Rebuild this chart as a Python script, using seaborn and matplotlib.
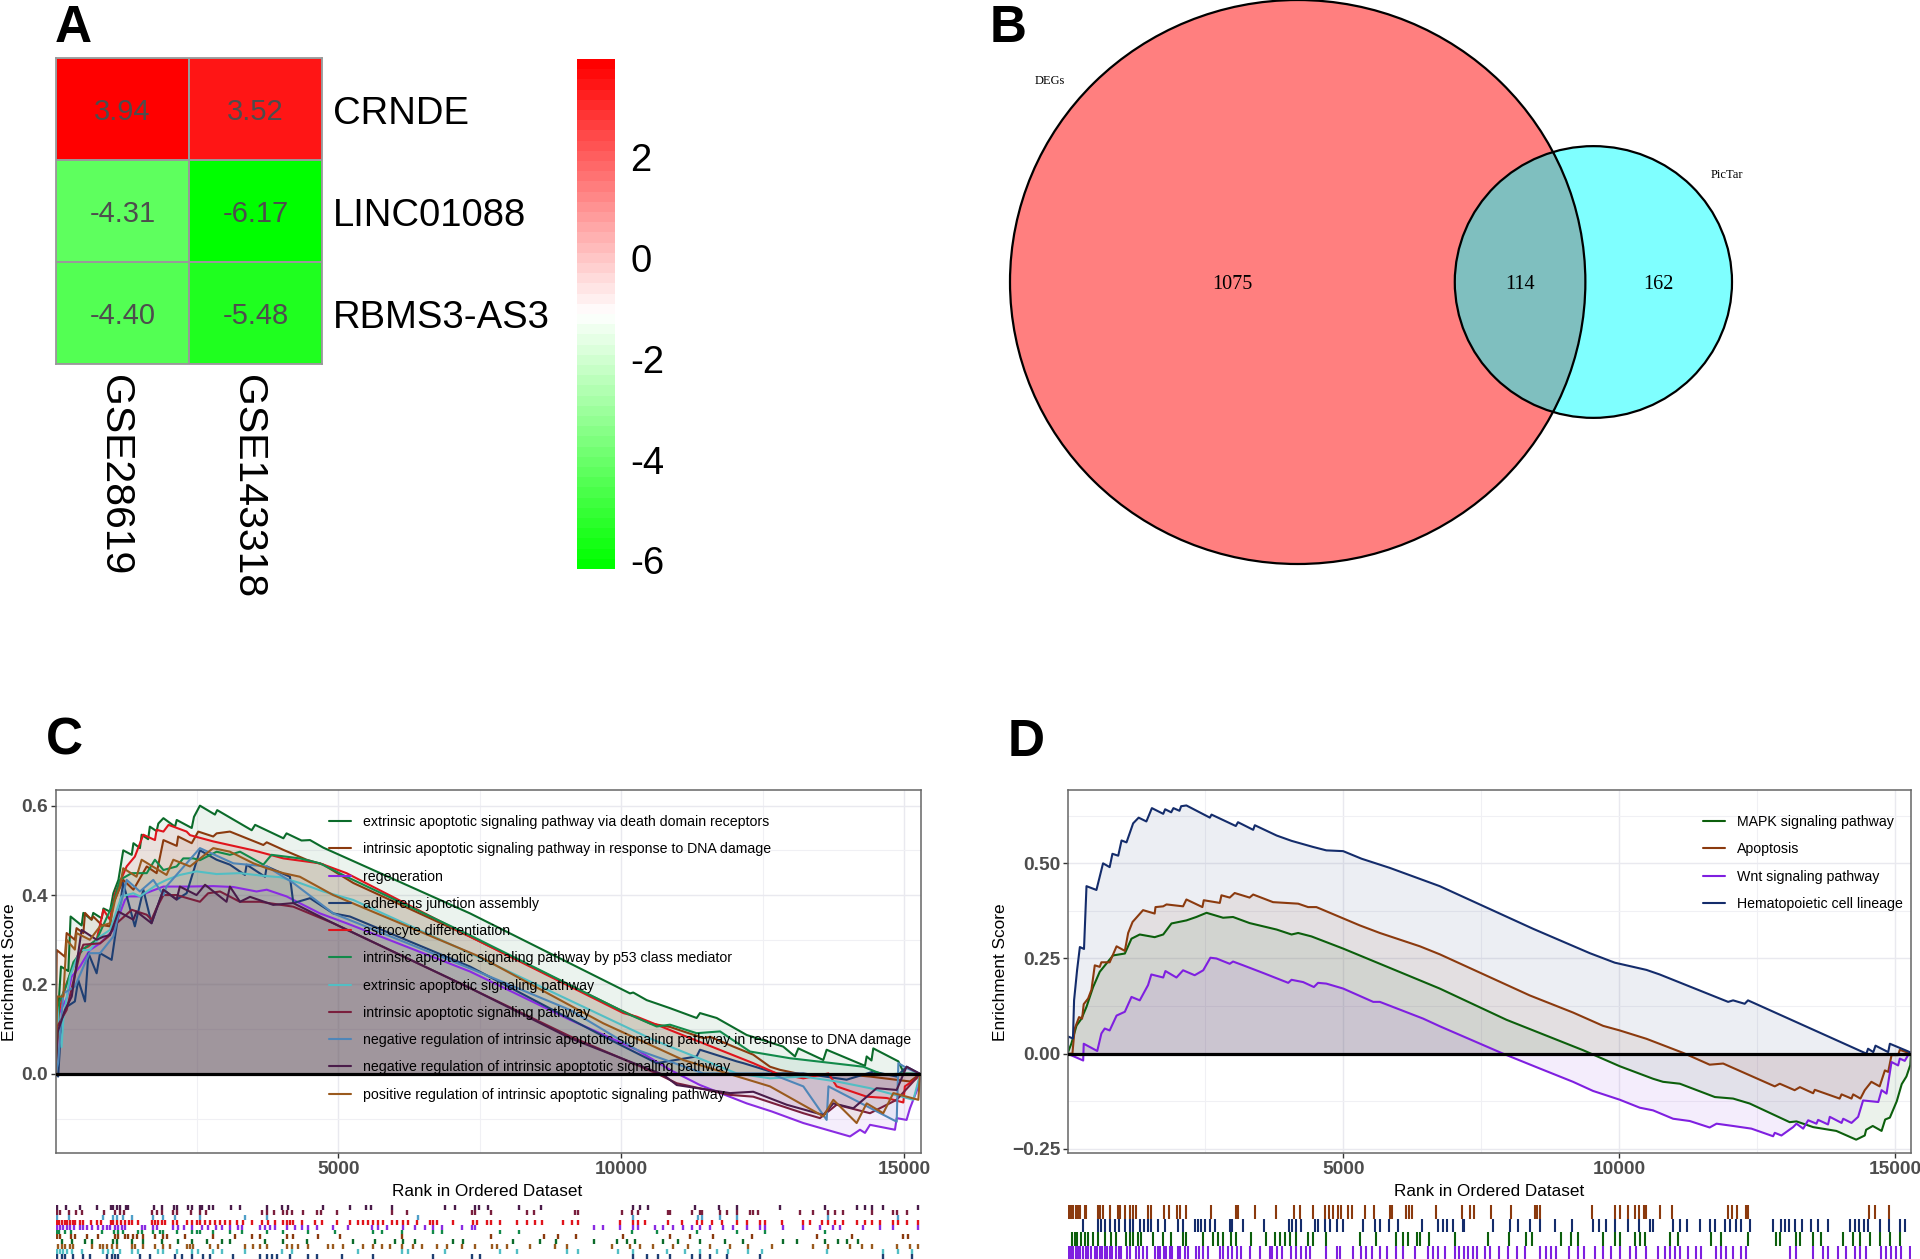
"""
Four panel figure: heatmap, venn diagram and two GSEA running score plots
"""
import numpy as np
import pandas as pd
import matplotlib
matplotlib.use("Agg")
import matplotlib.pyplot as plt
from matplotlib.colors import LinearSegmentedColormap
from matplotlib.patches import Circle
from matplotlib.transforms import ScaledTranslation
import seaborn as sns

W, H = 1920, 1259

# Panel A
genes = ["CRNDE", "LINC01088", "RBMS3-AS3"]
datasets = ["GSE28619", "GSE143318"]
logfc = [[3.94, 3.52], [-4.31, -6.17], [-4.40, -5.48]]
cbar_ticks = [-6, -4, -2, 0, 2]

# Panel B
venn_only_degs = 1075
venn_both = 114
venn_only_pictar = 162

# Panel C curves as (rank, score)
c_ext_death = [(0, 0), (50, .12), (70, .18), (100, .24), (230, .23), (270, .352), (465, .332), (495, .36), (640, .345), (670, .36), (820, .348), (850, .37), (965, .363), (1025, .404), (1115, .434), (1200, .5), (1350, .49), (1380, .516), (1495, .505), (1525, .535), (1640, .525), (1670, .553), (1790, .543), (1820, .56), (1910, .572), (2115, .553), (2145, .568), (2410, .55), (2450, .575), (2555, .6), (2820, .58), (2860, .59), (3470, .545), (3530, .557), (4030, .527), (4085, .538), (4350, .522), (4500, .523), (4735, .506), (7327, .359), (10154, .18), (10210, .182), (10448, .165), (10860, .147), (11331, .125), (11390, .136), (11685, .125), (12215, .087), (12860, .061), (13069, .039), (13128, .057), (13569, .031), (13628, .054), (14305, .018), (14335, .039), (14420, .03), (14452, .057), (14895, .028), (15000, 0), (15277, 0)]
c_intr_dna = [(0, 0), (25, .277), (170, .262), (200, .315), (345, .3), (375, .326), (495, .315), (525, .36), (640, .345), (670, .352), (820, .333), (965, .33), (1025, .382), (1200, .434), (1380, .412), (1615, .464), (1790, .449), (1910, .523), (2145, .51), (2170, .531), (2410, .516), (2525, .542), (2790, .531), (2850, .538), (3085, .542), (3675, .512), (3735, .518), (4030, .501), (4440, .479), (4735, .468), (5265, .427), (7327, .307), (9977, .143), (10507, .113), (10860, .105), (11450, .08), (11570, .083), (11980, .061), (12330, .043), (12627, .016), (12804, .009), (13216, -.002), (14040, -.002), (14394, -.006), (15100, -.017), (15277, 0)]
c_regeneration = [(0, 0), (35, .069), (70, .136), (200, .169), (290, .218), (435, .24), (610, .277), (790, .292), (1025, .322), (1140, .359), (1230, .389), (1290, .397), (1495, .397), (1615, .405), (1910, .419), (2320, .419), (2790, .42), (3145, .418), (3555, .408), (3735, .412), (4085, .397), (4675, .359), (5145, .337), (7327, .229), (9094, .121), (10271, .054), (10860, .009), (11390, -.025), (12215, -.066), (12656, -.084), (13216, -.11), (14040, -.14), (14217, -.125), (14305, -.132), (14394, -.114), (14835, -.125), (14865, -.099), (15040, -.103), (15100, -.077), (15250, -.028), (15277, -.006)]
c_adherens = [(0, 0), (50, -.006), (110, .12), (200, .15), (345, .162), (405, .21), (525, .162), (585, .27), (730, .225), (790, .27), (995, .255), (1055, .307), (1200, .427), (1405, .33), (1555, .412), (1700, .337), (1910, .412), (2143, .39), (2320, .404), (2555, .5), (2850, .479), (3085, .468), (3350, .445), (3380, .468), (3705, .441), (3735, .464), (4145, .441), (4205, .382), (4500, .393), (4910, .359), (5205, .352), (7327, .24), (9683, .084), (10625, .024), (11331, .039), (11390, .054), (12038, .028), (12156, .024), (12745, .001), (13216, .001), (13981, -.013), (14452, .005), (14865, -.006), (15040, .016), (15277, 0)]
c_astrocyte = [(0, 0), (70, .143), (200, .203), (320, .24), (435, .277), (585, .285), (730, .3), (850, .367), (965, .345), (1055, .404), (1260, .464), (1405, .486), (1555, .535), (1760, .523), (1790, .546), (1910, .542), (2000, .557), (2320, .542), (2380, .534), (2790, .52), (3500, .5), (4030, .482), (4675, .471), (5145, .449), (7327, .307), (10036, .136), (10271, .128), (10860, .098), (12330, .024), (12745, .001), (13216, -.01), (13660, .001), (13805, -.028), (14335, -.051), (14690, -.054), (14983, -.064), (15010, -.028), (15218, -.01), (15277, 0)]
c_p53 = [(0, 0), (70, .16), (200, .2), (320, .25), (500, .28), (730, .3), (1025, .382), (1140, .434), (1350, .449), (1615, .449), (1760, .479), (1910, .456), (2143, .464), (2260, .482), (2440, .482), (2555, .478), (2850, .497), (3085, .49), (3263, .497), (3675, .468), (3820, .49), (4320, .482), (4675, .471), (5145, .441), (7327, .31), (10154, .132), (10625, .106), (10860, .11), (11331, .091), (11745, .095), (12273, .05), (12980, .035), (14276, .016), (14629, -.002), (14983, .001), (15277, 0)]
c_ext = [(0, 0), (35, .15), (110, .06), (140, .12), (260, .218), (435, .277), (610, .277), (790, .307), (965, .322), (1170, .397), (1378, .404), (1495, .397), (1790, .423), (1965, .434), (2200, .445), (2495, .453), (2850, .447), (3260, .449), (3675, .443), (3970, .44), (4320, .427), (4735, .408), (5265, .389), (7327, .27), (10566, .076), (11450, .031), (12038, .001), (12627, -.01), (13216, -.006), (13805, -.017), (14394, -.032), (15160, -.058), (15277, -.002)]
c_intr = [(0, 0), (35, .106), (200, .143), (435, .27), (495, .289), (790, .292), (935, .307), (1085, .337), (1350, .367), (1615, .356), (1700, .345), (1790, .371), (1910, .4), (2143, .4), (2555, .385), (2700, .404), (2910, .408), (3260, .385), (3615, .385), (4205, .374), (4910, .337), (7327, .192), (9094, .084), (10625, .001), (10980, -.021), (11920, -.047), (12330, -.051), (13216, -.088), (13510, -.099), (13805, -.069), (14394, -.088), (14865, -.058), (15160, -.017), (15277, 0)]
c_neg_dna = [(0, 0), (50, .024), (140, .18), (345, .195), (600, .27), (790, .27), (1024, .307), (1260, .434), (1495, .408), (1731, .434), (1910, .4), (1967, .42), (2555, .505), (3145, .471), (3735, .464), (4205, .427), (4910, .359), (7327, .236), (9094, .143), (10271, .054), (11450, .001), (12627, .001), (13216, -.028), (13628, -.103), (13660, -.028), (14865, -.107), (14895, .024), (15040, .013), (15277, 0)]
c_neg = [(0, 0), (35, .091), (170, .143), (290, .173), (465, .322), (730, .3), (850, .307), (965, .31), (1115, .363), (1378, .345), (1435, .363), (1700, .337), (1910, .412), (2143, .39), (2200, .419), (2495, .4), (2645, .423), (3025, .385), (3085, .419), (3263, .385), (3440, .396), (3850, .378), (4205, .382), (4910, .337), (7327, .192), (9094, .08), (10742, -.002), (10980, -.025), (11920, -.043), (12330, -.04), (12921, -.069), (13569, -.092), (13746, -.066), (14099, -.077), (14511, -.032), (14865, -.036), (15040, .016), (15277, 0)]
c_pos = [(0, 0), (35, .173), (140, .173), (200, .3), (345, .278), (375, .315), (610, .3), (790, .33), (965, .337), (1055, .389), (1140, .419), (1200, .46), (1435, .441), (1525, .479), (1965, .445), (2085, .479), (2380, .464), (2790, .505), (3085, .497), (3500, .471), (3735, .46), (4030, .449), (4320, .441), (4910, .4), (7500, .262), (9683, .113), (11096, .031), (12627, -.028), (13569, -.095), (13746, -.058), (14158, -.11), (14335, -.066), (14628, -.088), (14806, -.043), (15248, -.058), (15277, 0)]

# Panel D curves as (rank, score)
d_mapk = [(0, 0), (70, .026), (165, .074), (255, .092), (345, .123), (465, .175), (585, .215), (825, .258), (1040, .263), (1160, .302), (1310, .313), (1580, .306), (1735, .313), (1885, .342), (2155, .35), (2335, .359), (2520, .37), (2820, .357), (3000, .359), (3300, .343), (3790, .326), (4060, .313), (4180, .317), (4420, .308), (4995, .276), (6745, .171), (7953, .089), (9343, .009), (10005, -.033), (10610, -.066), (10790, -.074), (11095, -.079), (11730, -.114), (12060, -.118), (12360, -.131), (13085, -.18), (13208, -.178), (13510, -.193), (13930, -.203), (14290, -.226), (14445, -.215), (14470, -.2), (14590, -.19), (14750, -.203), (14815, -.173), (14900, -.168), (15025, -.125), (15115, -.08), (15200, -.06), (15270, -.03), (15283, 0)]
d_apoptosis = [(0, 0), (90, 0), (130, .065), (210, .096), (265, .092), (295, .13), (375, .145), (435, .168), (495, .232), (585, .228), (615, .24), (765, .24), (890, .282), (1040, .27), (1100, .317), (1180, .346), (1370, .377), (1580, .368), (1595, .385), (1735, .387), (1795, .392), (2095, .387), (2155, .405), (2445, .385), (2470, .403), (2760, .396), (2790, .416), (2940, .41), (3030, .422), (3300, .41), (3365, .418), (3725, .398), (4180, .394), (4360, .385), (4510, .385), (5295, .337), (5660, .317), (6385, .282), (6745, .261), (8375, .153), (9160, .108), (9705, .073), (10005, .061), (10490, .039), (11155, .002), (11635, -.029), (11880, -.026), (12815, -.086), (12905, -.079), (13175, -.096), (13270, -.088), (13510, -.104), (13540, -.095), (13990, -.118), (14025, -.107), (14205, -.118), (14235, -.107), (14367, -.118), (14445, -.096), (14565, -.074), (14715, -.086), (14810, -.044), (14870, -.048), (14930, -.004), (15050, -.004), (15080, .01), (15283, 0)]
d_wnt = [(0, 0), (285, -.018), (295, .026), (540, .007), (615, .053), (675, .066), (765, .061), (890, .1), (1040, .11), (1160, .149), (1310, .14), (1460, .18), (1520, .208), (1735, .2), (1775, .217), (1975, .2), (2095, .219), (2305, .206), (2460, .219), (2590, .252), (2700, .25), (2940, .236), (3000, .242), (3185, .232), (3545, .212), (4000, .186), (4060, .194), (4270, .188), (4465, .175), (4540, .186), (4690, .184), (4995, .171), (5540, .136), (5660, .136), (6445, .092), (6745, .072), (7892, 0), (8557, -.039), (9160, -.074), (9523, -.098), (10005, -.121), (10370, -.142), (10610, -.149), (10973, -.171), (11275, -.177), (11635, -.194), (11760, -.184), (12060, -.19), (12392, -.197), (12785, -.217), (12815, -.208), (12935, -.215), (13147, -.193), (13208, -.184), (13330, -.197), (13420, -.175), (13570, -.184), (13600, -.174), (13780, -.186), (13812, -.166), (14025, -.182), (14055, -.171), (14205, -.182), (14325, -.166), (14415, -.123), (14690, -.127), (14750, -.096), (14840, -.105), (14930, -.022), (15050, -.031), (15080, -.013), (15170, -.019), (15262, .004), (15283, 0)]
d_hema = [(0, 0), (10, .045), (100, .04), (120, .14), (175, .22), (225, .28), (300, .275), (345, .44), (525, .43), (645, .5), (765, .49), (815, .525), (920, .52), (980, .56), (1070, .555), (1190, .605), (1290, .62), (1430, .61), (1530, .645), (1735, .63), (1770, .642), (1880, .634), (1920, .645), (2030, .638), (2060, .65), (2155, .652), (2580, .62), (2610, .628), (3050, .598), (3090, .608), (3365, .588), (3395, .6), (3790, .573), (4060, .559), (4450, .543), (4690, .534), (4995, .532), (5330, .512), (5840, .488), (6745, .44), (8436, .328), (9463, .264), (9916, .239), (10490, .22), (10730, .208), (11970, .136), (12060, .14), (12270, .131), (12330, .14), (14475, 0), (14505, .013), (14600, .004), (14640, .021), (14870, .004), (14900, .026), (15262, .004), (15283, 0)]

# gene set hit ranks, panel C
r_neg = [24, 190, 436, 730, 983, 1024, 1083, 1142, 1248, 1290, 1743, 1878, 2096, 2143, 2350, 2421, 2556, 2585, 2721, 2791, 3097, 3263, 3733, 3998, 4116, 4735, 5206, 5489, 5571, 5948, 6884, 7061, 7414, 7486, 7651, 8193, 8581, 10213, 10330, 10466, 11302, 11732, 12038, 12804, 13599, 14170, 14306, 14423, 14629, 15248]
r_intr = [35, 82, 247, 365, 465, 860, 1054, 1142, 1213, 1702, 1790, 1878, 2085, 2143, 2391, 2556, 2662, 3645, 3733, 3863, 4028, 4087, 4175, 4370, 4617, 4688, 4970, 5942, 6219, 7355, 7415, 7692, 8328, 8458, 9182, 9241, 10006, 10183, 10289, 10831, 10860, 11243, 11390, 11420, 11744, 11862, 12038, 12274, 12333, 12421, 13157, 13393, 13658, 13775, 13911, 14423, 14794, 14865, 15042]
r_neg_dna = [24, 247, 848, 1024, 1083, 1190, 1348, 1731, 1908, 2114, 2556, 3351, 3733, 6413, 10213, 11361, 11420, 11744, 12038, 13658, 14895]
r_astrocyte = [24, 71, 118, 165, 212, 259, 306, 353, 436, 495, 624, 730, 801, 978, 1024, 1083, 1154, 1225, 1295, 1348, 1466, 1702, 1761, 1820, 1878, 1937, 2085, 2143, 2320, 2409, 2497, 2556, 2644, 2732, 2821, 2909, 2997, 3086, 3204, 3322, 3469, 3645, 3763, 3881, 4028, 4087, 4146, 4205, 4352, 4588, 4705, 4970, 5206, 5353, 5442, 5530, 5618, 5707, 5795, 5942, 6031, 6148, 6237, 6384, 6620, 6678, 6737, 7032, 7385, 7457, 7621, 7692, 7857, 8151, 8340, 8475, 8593, 8976, 9123, 9241, 9977, 10213, 10301, 10419, 10831, 11066, 11331, 11420, 11596, 11773, 12038, 12215, 12450, 12539, 12833, 13216, 13334, 13540, 13658, 13775, 13922, 14158, 14306, 14423, 14572, 14807, 14895, 15042, 15248]
r_regeneration = [35, 82, 130, 200, 259, 330, 436, 495, 554, 642, 760, 848, 907, 966, 1054, 1113, 1172, 1230, 1525, 1584, 1731, 1790, 2085, 2173, 2273, 2409, 2585, 2703, 2838, 2938, 3086, 3233, 3292, 3616, 3704, 3792, 3881, 4087, 4234, 4352, 4470, 4617, 4911, 5177, 5589, 5707, 5854, 6148, 6354, 6531, 6678, 6825, 7179, 7356, 7415, 9518, 9683, 9977, 10213, 10301, 10595, 10743, 10919, 11096, 11243, 11390, 11567, 11803, 11979, 12215, 12450, 12539, 12863, 13216, 13510, 13746, 13864, 14276, 14572, 14807, 15248]
r_p53 = [24, 71, 171, 271, 819, 1036, 1113, 1190, 1466, 1525, 1731, 1849, 1908, 2143, 2409, 2497, 2556, 2791, 3086, 3292, 3733, 4028, 4470, 4941, 5618, 5765, 6119, 6678, 6825, 7857, 8199, 10183, 10625, 11331, 12038, 12539, 13599]
r_intr_dna = [24, 82, 271, 347, 565, 760, 1054, 1113, 1230, 1290, 1378, 1449, 1555, 1761, 1908, 1967, 2291, 2791, 3174, 3469, 3616, 4087, 4205, 4647, 5029, 6119, 7692, 8634, 8888, 9200, 10036, 10860, 11214, 11626, 12303, 13452, 14070, 14983, 15071]
r_ext_death = [112, 289, 524, 642, 1024, 1083, 1348, 1555, 1878, 2173, 2409, 2674, 2938, 3086, 3704, 4028, 4440, 5265, 5648, 6001, 6148, 6354, 7032, 7208, 8093, 8564, 8846, 9518, 9918, 10095, 10242, 10743, 11007, 11390, 11832, 12156, 12863, 13098, 13599, 13834, 13981, 14188]
r_pos = [53, 112, 171, 259, 318, 642, 789, 848, 907, 995, 1083, 1348, 1407, 1555, 1761, 1908, 2026, 2320, 2379, 2438, 2732, 2880, 3351, 3498, 3616, 3733, 4087, 4175, 4293, 4470, 4823, 4911, 5088, 5442, 5618, 5765, 5912, 6119, 6325, 6472, 6737, 6913, 7179, 7414, 7710, 7798, 7975, 8387, 8829, 9035, 9830, 10154, 10330, 10566, 10919, 11184, 11567, 11920, 12244, 12656, 13393, 13658, 14040, 14247, 14423, 14865, 15100, 15248]
r_ext = [35, 82, 130, 200, 289, 465, 848, 936, 1024, 1142, 1348, 1466, 1820, 1908, 2143, 2409, 2526, 2791, 2938, 3351, 3998, 4175, 5353, 6119, 6237, 6884, 7857, 8151, 9035, 9241, 9948, 10213, 10801, 11125, 11390, 11685, 11891, 12244, 12480, 13628, 14629, 14895, 15130]
r_adherens = [35, 112, 171, 318, 495, 612, 907, 995, 1054, 1113, 1496, 1672, 2114, 2232, 2409, 2615, 2732, 3145, 3616, 3733, 3822, 3910, 4146, 4470, 4617, 5059, 5618, 6678, 7355, 7504, 10213, 10448, 10654, 10860, 11243, 11390, 11567, 11862, 12450, 14629, 15130]

# gene set hit ranks, panel D
r_apoptosis = [24, 72, 103, 151, 193, 223, 314, 344, 556, 586, 646, 779, 918, 960, 1039, 1142, 1190, 1250, 1462, 1522, 1746, 1836, 1987, 2048, 2156, 2609, 3062, 3092, 3394, 3775, 4101, 4210, 4451, 4663, 4741, 4814, 4904, 4965, 5086, 5164, 5388, 5551, 5841, 5871, 6131, 6191, 6251, 6674, 7157, 7289, 7367, 7681, 8032, 8466, 8515, 8557, 9511, 9928, 10007, 10158, 10278, 10351, 10441, 10478, 10731, 10961, 11970, 12048, 12139, 12302, 12332, 14518, 14639, 14893]
r_hema = [284, 556, 616, 677, 779, 858, 936, 1039, 1130, 1190, 1311, 1383, 1462, 1522, 1643, 1764, 2005, 2096, 2308, 2368, 2428, 2489, 2579, 2670, 2942, 2990, 3183, 3563, 4016, 4076, 4149, 4240, 4481, 4542, 4663, 4765, 4886, 4995, 5357, 5569, 5660, 5829, 5992, 6415, 6717, 6808, 6880, 6977, 7170, 7180, 7711, 8013, 8164, 8376, 8557, 8829, 9149, 9523, 9632, 9765, 9916, 10158, 10351, 10550, 10611, 10973, 11094, 11227, 11468, 11637, 11728, 11909, 12000, 12121, 12211, 12362, 12785, 12936, 12996, 13075, 13178, 13316, 13480, 13600, 13781, 14186, 14265, 14343, 14428, 14506, 14718, 14887, 15080, 15170]
r_mapk = [91, 133, 175, 254, 314, 375, 465, 556, 677, 797, 888, 1069, 1130, 1190, 1281, 1341, 1552, 1733, 1884, 2096, 2156, 2458, 2639, 2730, 2821, 2972, 3062, 3334, 3606, 3757, 3848, 3939, 4028, 4149, 4361, 4451, 4681, 5297, 5599, 5961, 6082, 6173, 6324, 6385, 6553, 7017, 7621, 8001, 8303, 8424, 8950, 9131, 9252, 9705, 9928, 10007, 10278, 10369, 10460, 10925, 11064, 11668, 11849, 12332, 12845, 12906, 13208, 13268, 13510, 13661, 14053, 14235, 14367, 14536, 14730, 14899, 15080]
r_wnt = [24, 72, 103, 151, 193, 235, 284, 332, 375, 435, 495, 538, 586, 634, 677, 719, 767, 815, 876, 936, 978, 1081, 1130, 1238, 1299, 1371, 1444, 1594, 1643, 1685, 1746, 1794, 1854, 1903, 2005, 2048, 2126, 2186, 2326, 2386, 2458, 2549, 2761, 2821, 2911, 2990, 3074, 3153, 3304, 3497, 3666, 3715, 3800, 3896, 4058, 4137, 4240, 4330, 4403, 4681, 4886, 4947, 5176, 5327, 5406, 5509, 5660, 5781, 5949, 6082, 6293, 6535, 6626, 6717, 6836, 7017, 7095, 7180, 7258, 7349, 7421, 7560, 7651, 7820, 7983, 8146, 8285, 8557, 8666, 8768, 8859, 9088, 9252, 9354, 9554, 9705, 9856, 10007, 10188, 10309, 10490, 10701, 10822, 10913, 11003, 11094, 11245, 11396, 11486, 11758, 11849, 11939, 12060, 12211, 12290, 13087, 13208, 13510, 13691, 13781, 13963, 14101, 14265, 14367, 14476, 14748, 14839, 14929, 15020, 15110, 15261]

c_series = [
    ("extrinsic apoptotic signaling pathway via death domain receptors", c_ext_death, "#0B6B2A"),
    ("intrinsic apoptotic signaling pathway in response to DNA damage", c_intr_dna, "#8B3A0E"),
    ("regeneration", c_regeneration, "#8A2BE2"),
    ("adherens junction assembly", c_adherens, "#1F3F73"),
    ("astrocyte differentiation", c_astrocyte, "#E0141C"),
    ("intrinsic apoptotic signaling pathway by p53 class mediator", c_p53, "#128A4A"),
    ("extrinsic apoptotic signaling pathway", c_ext, "#52BEC4"),
    ("intrinsic apoptotic signaling pathway", c_intr, "#7A1F3D"),
    ("negative regulation of intrinsic apoptotic signaling pathway in response to DNA damage", c_neg_dna, "#4F86B8"),
    ("negative regulation of intrinsic apoptotic signaling pathway", c_neg, "#4A1C4A"),
    ("positive regulation of intrinsic apoptotic signaling pathway", c_pos, "#9A5A1E"),
]
d_series = [
    ("MAPK signaling pathway", d_mapk, "#0C5F0C"),
    ("Apoptosis", d_apoptosis, "#8B3A0E"),
    ("Wnt signaling pathway", d_wnt, "#7F1FE0"),
    ("Hematopoietic cell lineage", d_hema, "#142C6B"),
]
c_rugs = [(r_neg, "#4A1C4A"), (r_intr, "#7A1F3D"), (r_neg_dna, "#4F9FC8"), (r_astrocyte, "#E0141C"),
          (r_regeneration, "#8A2BE2"), (r_p53, "#128A4A"), (r_intr_dna, "#8B3A0E"), (r_ext_death, "#0B6B2A"),
          (r_pos, "#9A5A1E"), (r_ext, "#52BEC4"), (r_adherens, "#1F3F73")]
d_rugs = [(r_apoptosis, "#8B3A0E"), (r_hema, "#142C6B"), (r_mapk, "#0C5F0C"), (r_wnt, "#7F1FE0")]

sns.set_theme(style="white")
plt.rcParams["font.family"] = ["Liberation Sans", "DejaVu Sans"]

fig = plt.figure(figsize=(W / 100, H / 100), dpi=100)


def px_axes(left, top, right, bottom):
    # axes placed by pixel edges of the output image
    return fig.add_axes([left / W, 1 - bottom / H, (right - left) / W, (bottom - top) / H])


def px_text(x, y, s, **kw):
    fig.text(x / W, 1 - y / H, s, ha=kw.pop("ha", "center"), va=kw.pop("va", "center"), **kw)


def nudge(txt, dx_px, dy_px):
    # shift a text by output pixels, y down
    txt.set_transform(txt.get_transform() + ScaledTranslation(dx_px / 100, -dy_px / 100, fig.dpi_scale_trans))


# Panel A
df = pd.DataFrame(logfc, index=genes, columns=datasets)
cmap = LinearSegmentedColormap.from_list("gwr", ["#00FF00", "#FFFFFF", "#FF0000"], N=50)
ax_a = px_axes(56, 58, 322, 364)
cax = px_axes(577, 59, 615, 569)
sns.heatmap(df, ax=ax_a, cbar_ax=cax, cmap=cmap, vmin=-6.17, vmax=3.94, annot=True, fmt=".2f",
            annot_kws={"size": 21, "color": "#4D4D4D"}, linewidths=1.3, linecolor="#999999")
ax_a.yaxis.tick_right()
ax_a.tick_params(length=0, axis="y", pad=8, labelsize=27.5, labelright=True, labelleft=False)
ax_a.tick_params(length=0, axis="x", pad=8, labelsize=29.5)
plt.setp(ax_a.get_yticklabels(), rotation=0, color="black")
plt.setp(ax_a.get_xticklabels(), rotation=270, color="black")
for txt in ax_a.texts:
    nudge(txt, 0, 3)
for txt in ax_a.get_yticklabels():
    nudge(txt, 0, 1)
for txt in ax_a.get_xticklabels():
    nudge(txt, -8, 0)
for sp in ax_a.spines.values():
    sp.set_visible(True)
    sp.set_color("#999999")
    sp.set_linewidth(1.3)
ax_a.collections[0].colorbar.outline.set_visible(False)
cax.set_yticks(cbar_ticks)
cax.set_yticklabels([str(t) for t in cbar_ticks], fontsize=27.5, color="black")
cax.tick_params(length=0, pad=11)

# Panel B, area proportional circles
size_a = venn_only_degs + venn_both
size_b = venn_only_pictar + venn_both
r_a = np.sqrt(size_a / np.pi)
r_b = np.sqrt(size_b / np.pi)


def lens_area(d):
    t1 = r_a**2 * np.arccos((d**2 + r_a**2 - r_b**2) / (2 * d * r_a))
    t2 = r_b**2 * np.arccos((d**2 + r_b**2 - r_a**2) / (2 * d * r_b))
    t3 = 0.5 * np.sqrt((-d + r_a + r_b) * (d + r_a - r_b) * (d - r_a + r_b) * (d + r_a + r_b))
    return t1 + t2 - t3


lo, hi = r_a - r_b + 1e-6, r_a + r_b - 1e-6
for _ in range(60):
    mid = (lo + hi) / 2
    if lens_area(mid) > venn_both:
        lo = mid
    else:
        hi = mid
dist = (lo + hi) / 2

ax_b = px_axes(1010, 0, 1732, 564)
ax_b.set_xlim(-r_a, dist + r_b)
ax_b.set_ylim(-r_a, r_a)
ax_b.axis("off")
ax_b.add_patch(Circle((0, 0), r_a, fc="#FF0000", alpha=0.5, ec="none"))
ax_b.add_patch(Circle((dist, 0), r_b, fc="#00FFFF", alpha=0.5, ec="none"))
ax_b.add_patch(Circle((0, 0), r_a, fc="none", ec="black", lw=1.6, clip_on=False))
ax_b.add_patch(Circle((dist, 0), r_b, fc="none", ec="black", lw=1.6, clip_on=False))
serif = ["Liberation Serif", "DejaVu Serif"]
px_text(1232, 285, str(venn_only_degs), family=serif, fontsize=14.5, color="black")
px_text(1520, 285, str(venn_both), family=serif, fontsize=14.5, color="black")
px_text(1658, 285, str(venn_only_pictar), family=serif, fontsize=14.5, color="black")
px_text(1050, 81, "DEGs", family=serif, fontsize=9, color="black")
px_text(1727, 175, "PicTar", family=serif, fontsize=9, color="black")


def gsea_panel(box, xlim, ylim, yticks, yminor, ylabels, series, legend_xy):
    ax = px_axes(*box)
    for name, pts, col in series:
        rank, es = np.array(pts).T
        ax.fill_between(rank, es, 0, color=col, alpha=0.08, lw=0)
        sns.lineplot(x=rank, y=es, ax=ax, color=col, lw=1.5, sort=False, estimator=None, label=name)
    ax.axhline(0, color="black", lw=2.3, zorder=5)
    ax.set_xlim(*xlim)
    ax.set_ylim(*ylim)
    ax.set_xticks([5000, 10000, 15000])
    ax.set_xticks([2500, 7500, 12500], minor=True)
    ax.set_yticks(yticks)
    ax.set_yticklabels(ylabels)
    ax.set_yticks(yminor, minor=True)
    ax.grid(True, which="major", color="#E9E9EF", lw=1.0)
    ax.grid(True, which="minor", color="#F0F0F4", lw=0.8)
    ax.set_axisbelow(True)
    ax.tick_params(which="minor", length=0)
    ax.tick_params(which="major", length=3.5, width=1, color="#333333", labelcolor="#4D4D4D", labelsize=13.8, pad=2, bottom=True, left=True)
    plt.setp(ax.get_xticklabels() + ax.get_yticklabels(), fontweight="bold")
    for sp in ax.spines.values():
        sp.set_visible(True)
        sp.set_color("#666666")
        sp.set_linewidth(1.1)
    ax.set_xlabel("")
    ax.set_ylabel("")
    leg = ax.legend(loc="upper left", bbox_to_anchor=(legend_xy[0] / W, 1 - legend_xy[1] / H),
                    bbox_transform=fig.transFigure, frameon=False, fontsize=10.15, borderpad=0,
                    borderaxespad=0, handlelength=1.55, handletextpad=0.85, labelspacing=0.94)
    leg.set_zorder(6)
    for line in leg.get_lines():
        line.set_linewidth(1.5)
    for txt in leg.get_texts():
        txt.set_color("black")
    return ax


def rug_rows(left, right, top, row_h, xlim, rows, lw):
    for i, (ranks, col) in enumerate(rows):
        ax = px_axes(left, top + i * row_h, right, top + (i + 1) * row_h)
        sns.rugplot(x=ranks, ax=ax, color=col, height=1, linewidth=lw, alpha=1, expand_margins=False)
        ax.set_xlim(*xlim)
        ax.axis("off")


# Panel C
xlim_c = (12, 15295)
gsea_panel((56, 790, 921, 1153), xlim_c, (-0.177, 0.635), [0, 0.2, 0.4, 0.6], [-0.1, 0.1, 0.3, 0.5],
           ["0.0", "0.2", "0.4", "0.6"], c_series, (329, 815))
px_text(10, 972, "Enrichment Score", rotation=90, fontsize=12.4, color="black")
px_text(487, 1191, "Rank in Ordered Dataset", fontsize=12.3, color="black")
rug_rows(56, 921, 1205, 4.91, xlim_c, c_rugs, 1.7)

# Panel D
xlim_d = (10, 15283)
gsea_panel((1068, 790, 1911, 1153), xlim_d, (-0.261, 0.6926), [-0.25, 0, 0.25, 0.5], [-0.125, 0.125, 0.375, 0.625],
           ["\u22120.25", "0.00", "0.25", "0.50"], d_series, (1703, 815))
px_text(1000, 972, "Enrichment Score", rotation=90, fontsize=12.4, color="black")
px_text(1489, 1191, "Rank in Ordered Dataset", fontsize=12.3, color="black")
rug_rows(1068, 1911, 1205, 13.5, xlim_d, d_rugs, 1.5)

# panel letters
bold = {"fontsize": 37, "fontweight": "bold", "color": "black"}
px_text(73, 29, "A", **bold)
px_text(1008, 29, "B", **bold)
px_text(64, 741, "C", **bold)
px_text(1026, 742, "D", **bold)

fig.savefig("out.png", dpi=100)
